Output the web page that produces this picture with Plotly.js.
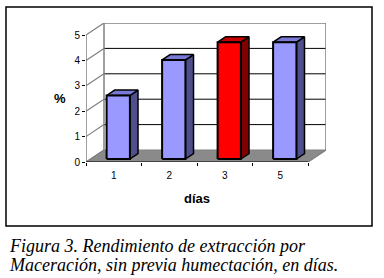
<!DOCTYPE html>
<html>
<head>
<meta charset="utf-8">
<script src="https://cdn.plot.ly/plotly-3.0.1.min.js"></script>
<style>html,body{margin:0;padding:0;background:#fff;}#chart{width:384px;height:278px;}</style>
</head>
<body>
<div id="chart"></div>
<script>
// ---- data ----
const categories = ['1', '2', '3', '5'];
const values = [2.5, 3.9, 4.6, 4.6];
const yTicks = [0, 1, 2, 3, 4, 5];
const highlight = [false, false, true, false];
const xTitle = 'días';
const yTitle = '%';
const captionLines = ['Figura 3. Rendimiento de extracción por', 'Maceración, sin previa humectación, en días.'];

// ---- 3D projection settings (depth in axis units) ----
const DX = 18 / 55.5;   // horizontal shift of full depth, in category units
const DY = 12 / 25.4;   // vertical shift of full depth, in value units
const Z0 = 0.25, Z1 = 0.70;  // bar depth extent
const BW = 0.42;             // bar width
const nCat = categories.length;
const yMax = yTicks[yTicks.length - 1];

const blueFace = {front: '#9999FF', side: '#4F4F8C', top: '#7A7AD6'};
const redFace = {front: '#FF0000', side: '#800000', top: '#C80000'};

const traces = [];
function poly(xs, ys, fill, lineColor, lineWidth) {
  traces.push({type: 'scatter', mode: 'lines', x: xs.concat([xs[0]]), y: ys.concat([ys[0]]),
    fill: fill ? 'toself' : 'none', fillcolor: fill || undefined,
    line: {color: lineColor, width: lineWidth}, hoverinfo: 'skip', showlegend: false});
}
function seg(xs, ys, color, width) {
  traces.push({type: 'scatter', mode: 'lines', x: xs, y: ys,
    line: {color: color, width: width}, hoverinfo: 'skip', showlegend: false});
}

// floor
poly([0, nCat, nCat + DX, DX], [0, 0, DY, DY], '#8A8A8A', '#808080', 1);
// back wall grid lines
yTicks.forEach(v => {
  if (v > 0 && v < yMax) seg([DX, nCat + DX], [v + DY, v + DY], '#000000', 1);
});
// back wall frame (top, right, left-back edge)
seg([DX, nCat + DX, nCat + DX], [yMax + DY, yMax + DY, DY], '#808080', 1.5);
seg([DX, DX], [DY, yMax + DY], '#808080', 1.5);
// left wall: diagonals at each tick + front vertical
yTicks.forEach(v => seg([0, DX], [v, v + DY], '#808080', 1.2));
seg([0, 0], [0, yMax], '#808080', 1.5);
// front floor edge (axis line)
seg([0, nCat], [0, 0], '#000000', 1.2);
seg([nCat, nCat + DX], [0, DY], '#808080', 1.2);

// bars
values.forEach((v, i) => {
  const c = highlight[i] ? redFace : blueFace;
  const cx = i + 0.5 + Z0 * DX;
  const xl = cx - BW / 2, xr = cx + BW / 2;
  const yb = Z0 * DY, yt = v + Z0 * DY;
  const ddx = (Z1 - Z0) * DX, ddy = (Z1 - Z0) * DY;
  poly([xr, xr + ddx, xr + ddx, xr], [yb, yb + ddy, yt + ddy, yt], c.side, '#000', 1.5);
  poly([xl, xr, xr + ddx, xl + ddx], [yt, yt, yt + ddy, yt + ddy], c.top, '#000', 1.5);
  poly([xl, xr, xr, xl], [yb, yb, yt, yt], c.front, '#000', 2);
});

// pixel helpers for layout
const W = 384, H = 278;
const mL = 86, mT = 23;
const plotW = (nCat + DX) * 55.5, plotH = (yMax + DY) * 25.4;
const mR = W - mL - plotW, mB = H - mT - plotH;
const px = p => (p - mL) / plotW;
const py = p => (mT + plotH - p) / plotH;

const font = "'Liberation Sans', Arial, sans-serif";
const serif = "'Liberation Serif', 'Times New Roman', Times, serif";
const layout = {
  width: W, height: H,
  margin: {l: mL, r: mR, t: mT, b: mB, pad: 0},
  paper_bgcolor: '#fff', plot_bgcolor: 'rgba(0,0,0,0)',
  showlegend: false,
  xaxis: {
    range: [0, nCat + DX], showgrid: false, zeroline: false, showline: false, fixedrange: true,
    tickmode: 'array', tickvals: categories.map((c, i) => i + 0.5), ticktext: categories,
    ticks: '', ticklabelstandoff: 6,
    tickfont: {family: font, size: 10, color: '#000'},
    minor: {tickmode: 'array', tickvals: Array.from({length: nCat + 1}, (_, i) => i),
      ticks: 'outside', ticklen: 3, tickcolor: '#000', tickwidth: 1, showgrid: false}
  },
  yaxis: {
    range: [0, yMax + DY], showgrid: false, zeroline: false, showline: false, fixedrange: true,
    tickmode: 'array', tickvals: yTicks, ticktext: yTicks.map(String),
    ticks: 'outside', ticklen: 3, tickcolor: '#000', tickwidth: 1,
    tickfont: {family: font, size: 10, color: '#000'}
  },
  shapes: [
    {type: 'rect', xref: 'paper', yref: 'paper', x0: px(6), x1: px(372), y0: py(226), y1: py(7),
      line: {color: '#000', width: 1.5}, fillcolor: 'rgba(0,0,0,0)', layer: 'below'}
  ],
  annotations: [
    {text: '<b>' + yTitle + '</b>', xref: 'paper', yref: 'paper', x: px(60), y: py(99),
      xanchor: 'center', yanchor: 'middle',
      showarrow: false, font: {family: font, size: 13, color: '#000'}},
    {text: '<b>' + xTitle + '</b>', xref: 'x', yref: 'paper', x: nCat / 2, y: py(198),
      xanchor: 'center', yanchor: 'middle',
      showarrow: false, font: {family: font, size: 13, color: '#000'}},
    {text: '<i>' + captionLines[0] + '</i>', xref: 'paper', yref: 'paper', x: px(7), y: py(246),
      xanchor: 'left', yanchor: 'middle', showarrow: false,
      font: {family: serif, size: 18, color: '#000'}},
    {text: '<i>' + captionLines[1] + '</i>', xref: 'paper', yref: 'paper', x: px(7), y: py(265),
      xanchor: 'left', yanchor: 'middle', showarrow: false,
      font: {family: serif, size: 18, color: '#000'}}
  ]
};

Plotly.newPlot('chart', traces, layout, {staticPlot: true, displayModeBar: false});
</script>
</body>
</html>
